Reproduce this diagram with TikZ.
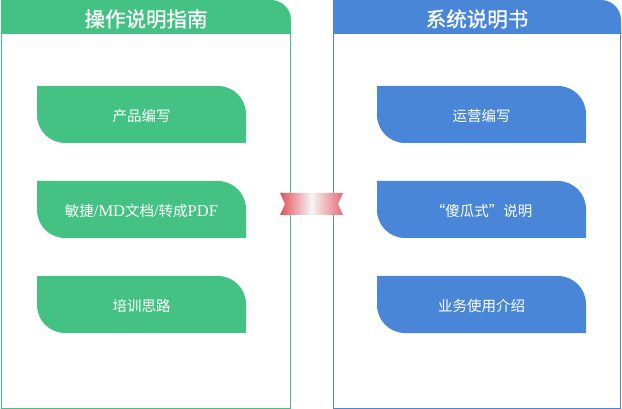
\documentclass[tikz,border=0pt]{standalone}
\usepackage{fontspec}
\setmainfont{Liberation Serif}
\newfontfamily\cjk{Noto Sans CJK SC}
\newfontfamily\cjkhead[FakeBold=0.9]{Noto Sans CJK SC}
\definecolor{gr}{HTML}{43C283}
\definecolor{bl}{HTML}{4A86D8}
\definecolor{rb}{HTML}{E2505C}
\tikzset{
  headtext/.style={text=white,font=\cjkhead\fontsize{20.5}{24}\selectfont,inner sep=0pt},
  itemtext/.style={text=white,font=\fontsize{14.5}{17}\selectfont,inner sep=0pt},
}
\newcommand{\itembox}[4]{% x, y, color, name
  \fill[#3] (#1,#2) -- ({#1+181},#2) arc[start angle=-90,end angle=0,radius=28]
    -- ({#1+209},{#2+57}) -- ({#1+28},{#2+57}) arc[start angle=90,end angle=180,radius=28] -- cycle;
  \coordinate (#4) at ({#1+104.5},{#2+30});
}
\begin{document}
\begin{tikzpicture}[x=1pt,y=-1pt]
\useasboundingbox (0,0) rectangle (622,409);
% left panel
\draw[gr,line width=1pt] (1.5,20) rectangle (290.5,408);
\fill[gr] (1,0) -- (271,0) arc[start angle=-90,end angle=0,radius=20] -- (291,34) -- (1,34) -- cycle;
\node[headtext] (lh) at (146,19) {操作说明指南};
% right panel
\draw[bl,line width=1pt] (333.5,20) rectangle (620.8,408);
\fill[bl] (333,0) -- (601,0) arc[start angle=-90,end angle=0,radius=20] -- (621.3,34) -- (333,34) -- cycle;
\node[headtext] (rh) at (477,19) {系统说明书};
% items left
\itembox{37}{86}{gr}{l1}
\itembox{37}{181}{gr}{l2}
\itembox{37}{276}{gr}{l3}
\node[itemtext] (t1) at (l1) {\cjk 产品编写};
\node[itemtext] (t2) at (l2) {{\cjk 敏捷}{\fontsize{16.5}{18}\selectfont/MD}{\cjk 文档}{\fontsize{16.5}{18}\selectfont/}{\cjk 转成}{\fontsize{16.5}{18}\selectfont PDF}};
\node[itemtext] (t3) at (l3) {\cjk 培训思路};
% items right
\itembox{377}{86}{bl}{r1}
\itembox{377}{181}{bl}{r2}
\itembox{377}{276}{bl}{r3}
\node[itemtext] (u1) at (r1) {\cjk 运营编写};
\node[itemtext] (u2) at (r2) {\cjk “傻瓜式”说明};
\node[itemtext] (u3) at (r3) {\cjk 业务使用介绍};
% ribbon
\shade[left color=rb,right color=rb!85,middle color=white!92!gray]
  (280,193) -- (343,193) -- (338,204) -- (343,215) -- (280,215) -- (285,204) -- cycle;
\end{tikzpicture}
\end{document}
